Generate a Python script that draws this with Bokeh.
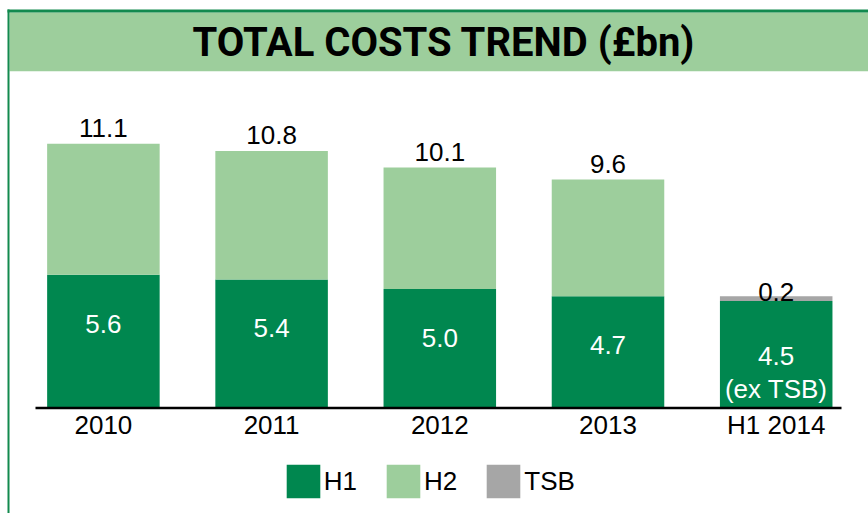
import numpy as np
from bokeh.plotting import figure
from bokeh.models import Range1d, BoxAnnotation, Label, ColumnDataSource
from bokeh.core.properties import value
from bokeh.embed import file_html
from bokeh.resources import INLINE

# ---- data ----
categories = ["2010", "2011", "2012", "2013", "H1 2014"]
h1 = [5.6, 5.4, 5.0, 4.7, 4.5]
h2 = [5.5, 5.4, 5.1, 4.9, 0.0]
tsb = [0.0, 0.0, 0.0, 0.0, 0.2]
h1_notes = ["", "", "", "", "(ex TSB)"]
series = ["H1", "H2", "TSB"]
title_text = "TOTAL COSTS TREND (£bn)"

# ---- styling / layout ----
C_H1 = "#00874F"
C_H2 = "#9DCE9C"
C_TSB = "#A6A6A6"
C_BORDER = "#138A4F"
FONT = value("Liberation Sans")

W, H = 868, 513
PX_X = 168.2      # px per category slot
PX_Y = 23.8       # px per £bn
X0_PX = 102.9     # first category centre from frame left
BASE_PX = 105.5   # baseline from frame bottom

x_start = -X0_PX / PX_X
x_end = x_start + W / PX_X
y_start = -BASE_PX / PX_Y
y_end = y_start + H / PX_Y

xs = list(range(len(categories)))

p = figure(width=W, height=H, output_backend="svg", toolbar_location=None,
           x_range=Range1d(x_start, x_end), y_range=Range1d(y_start, y_end),
           x_axis_location=None, y_axis_location=None, min_border=0,
           outline_line_color=None, background_fill_color="white",
           border_fill_color="white")
p.xgrid.visible = False
p.ygrid.visible = False

# title band and frame borders
p.add_layout(BoxAnnotation(bottom=y_end - 70.7 / PX_Y, top=y_end - 12 / PX_Y,
                           left=x_start + 9 / PX_X, fill_color=C_H2, fill_alpha=1,
                           line_color=None, level="underlay"))
p.add_layout(BoxAnnotation(bottom=y_end - 12 / PX_Y, top=y_end - 9 / PX_Y,
                           left=x_start + 7 / PX_X, fill_color=C_BORDER,
                           fill_alpha=1, line_color=None, level="underlay"))
p.add_layout(BoxAnnotation(left=x_start + 7 / PX_X, right=x_start + 9 / PX_X,
                           top=y_end - 9 / PX_Y, fill_color=C_BORDER,
                           fill_alpha=1, line_color=None, level="underlay"))
p.add_layout(Label(x=x_start + 443.5 / PX_X, y=y_end - 42 / PX_Y,
                   text=title_text, text_align="center", text_baseline="middle",
                   text_font="Roboto", text_font_style="bold",
                   text_font_size="40px", text_color="black"))

# stacked bars
src = ColumnDataSource(dict(x=xs, H1=h1, H2=h2, TSB=tsb))
p.vbar_stack(series, x="x", width=0.669, source=src, color=[C_H1, C_H2, C_TSB],
             line_color=None, legend_label=series)

# axis line
p.segment(x0=x_start + 35 / PX_X, y0=0, x1=x_start + 841 / PX_X, y1=0,
          line_color="black", line_width=2.5)

# category labels
p.text(x=xs, y=[0] * len(xs), text=categories, text_align="center",
       text_baseline="alphabetic", y_offset=16.5, text_font=FONT,
       text_font_size="26px", text_color="black")

# H1 labels inside bars
h1_text = [f"{v:.1f}" + (f"\n{n}" if n else "") for v, n in zip(h1, h1_notes)]
p.text(x=xs, y=h1, text=h1_text, text_align="center", text_baseline="top",
       y_offset=40, text_font=FONT, text_font_size="26px", text_color="white",
       text_line_height=1.12)

# total labels above bars (years without TSB)
tot_x = [x for x, t in zip(xs, tsb) if t == 0]
tot_y = [a + b for a, b, t in zip(h1, h2, tsb) if t == 0]
p.text(x=tot_x, y=tot_y, text=[f"{v:.1f}" for v in tot_y], text_align="center",
       text_baseline="alphabetic", y_offset=-15.5, text_font=FONT,
       text_font_size="26px", text_color="black")

# TSB label
tsb_x = [x for x, t in zip(xs, tsb) if t > 0]
tsb_y = [a + b + t for a, b, t in zip(h1, h2, tsb) if t > 0]
tsb_v = [t for t in tsb if t > 0]
p.text(x=tsb_x, y=tsb_y, text=[f"{v:.1f}" for v in tsb_v], text_align="center",
       text_baseline="alphabetic", y_offset=-4, text_font=FONT,
       text_font_size="26px", text_color="black")

# legend
lg = p.legend[0]
lg.location = (281.8, 11)
lg.orientation = "horizontal"
lg.glyph_width = 42
lg.glyph_height = 42
lg.label_standoff = 0
lg.spacing = 25
lg.padding = 0
lg.margin = 0
lg.border_line_alpha = 0
lg.background_fill_alpha = 0
lg.label_text_font = "Liberation Sans"
lg.label_text_font_size = "26px"
lg.label_text_color = "black"

open("out.html", "w").write(file_html(p, INLINE))
